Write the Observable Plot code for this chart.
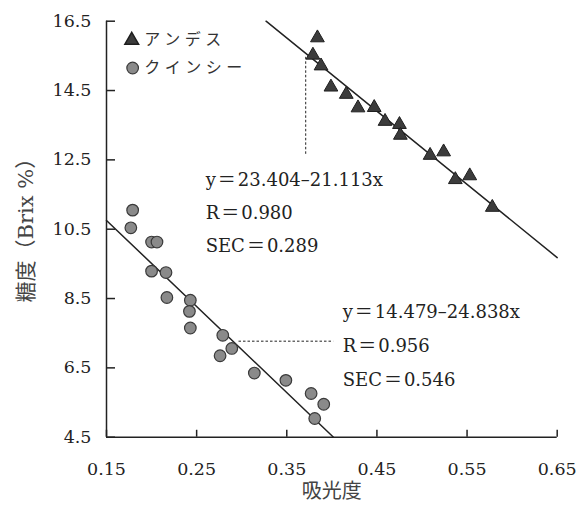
<!DOCTYPE html>
<html><head><meta charset="utf-8">
<script src="https://cdn.jsdelivr.net/npm/d3@7"></script>
<script src="https://cdn.jsdelivr.net/npm/@observablehq/plot@0.6"></script>
<style>body{margin:0;background:#fff}</style>
</head><body><div id="chart"></div>
<script>
// ---- data ----
const xTicks = [0.15, 0.25, 0.35, 0.45, 0.55, 0.65];
const yTicks = [4.5, 6.5, 8.5, 10.5, 12.5, 14.5, 16.5];
const seriesNames = ["アンデス", "クインシー"];

const andesX = [0.384, 0.379, 0.388, 0.399, 0.416, 0.429, 0.447, 0.459, 0.475, 0.476, 0.509, 0.524, 0.537, 0.553, 0.578];
const andesY = [16.02, 15.52, 15.21, 14.60, 14.39, 14.00, 14.01, 13.61, 13.52, 13.21, 12.63, 12.73, 11.93, 12.04, 11.13];

const quincyX = [0.179, 0.177, 0.200, 0.206, 0.200, 0.216, 0.217, 0.243, 0.242, 0.243, 0.279, 0.289, 0.276, 0.314, 0.349, 0.377, 0.391, 0.381];
const quincyY = [11.05, 10.54, 10.13, 10.13, 9.29, 9.25, 8.53, 8.45, 8.13, 7.65, 7.44, 7.06, 6.85, 6.35, 6.14, 5.76, 5.45, 5.04];

// regression lines y = a + b x, drawn over the x span shown in the figure
const andesFit = {a: 23.404, b: -21.113, x0: 0.327, x1: 0.65};
const quincyFit = {a: 14.479, b: -24.838, x0: 0.15, x1: 0.4018};

const andesLabels = ["y＝23.404–21.113x", "R＝0.980", "SEC＝0.289"];
const quincyLabels = ["y＝14.479–24.838x", "R＝0.956", "SEC＝0.546"];
const xLabel = "吸光度";
const yLabel = "糖度（Brix %）";

// ---- build tables ----
const andes = andesX.map((x, i) => ({x, y: andesY[i]}));
const quincy = quincyX.map((x, i) => ({x, y: quincyY[i]}));
const fitLine = f => [f.x0, f.x1].map(x => ({x, y: f.a + f.b * x}));

const ink = "#222";
const serif = "DejaVu Serif, Noto Sans CJK JP, serif";
const cjk = "Noto Sans CJK JP, sans-serif";

const chart = Plot.plot({
  width: 585,
  height: 513,
  marginLeft: 106,
  marginRight: 28.3,
  marginTop: 20.7,
  marginBottom: 76.3,
  style: {fontFamily: serif, fontSize: "17.5px", color: ink, background: "white"},
  x: {domain: [0.15, 0.65]},
  y: {domain: [4.5, 16.5]},
  marks: [
    // axes lines
    Plot.ruleY([4.5], {stroke: ink, strokeWidth: 1.5}),
    Plot.ruleX([0.15], {stroke: ink, strokeWidth: 1.5}),
    // inward ticks
    Plot.ruleY(yTicks, {y: d => d, x1: 0.15, x2: 0.16, stroke: ink, strokeWidth: 1.5}),
    Plot.ruleX(xTicks, {x: d => d, y1: 4.5, y2: 4.7, stroke: ink, strokeWidth: 1.5}),
    Plot.axisX({ticks: xTicks, tickSize: 0, tickPadding: 25, tickFormat: d3.format(".2f"), label: null, fill: ink, stroke: ink, strokeWidth: 0.35}),
    Plot.axisY({ticks: yTicks, tickSize: 0, tickPadding: 15, tickFormat: d3.format(".1f"), label: null, fill: ink, stroke: ink, strokeWidth: 0.35}),
    // regression lines
    Plot.line(fitLine(andesFit), {x: "x", y: "y", stroke: ink, strokeWidth: 1.5}),
    Plot.line(fitLine(quincyFit), {x: "x", y: "y", stroke: ink, strokeWidth: 1.5}),
    // leader lines
    Plot.ruleX([0.371], {y1: 12.66, y2: 15.46, stroke: ink, strokeWidth: 1, strokeDasharray: "2.5,2"}),
    Plot.ruleY([7.27], {x1: 0.297, x2: 0.402, stroke: ink, strokeWidth: 1, strokeDasharray: "2.5,2"}),
    // points
    Plot.dot(quincy, {x: "x", y: "y", r: 5.8, fill: "#8a8a8a", stroke: "#3a3a3a", strokeWidth: 1.2}),
    Plot.dot(andes, {x: "x", y: "y", symbol: "triangle", r: 5.1, fill: "#3c3c3c", stroke: "#1e1e1e", strokeWidth: 1}),
    // annotations
    Plot.text([andesLabels.join("\n")], {x: 0.26, y: 11.1, text: d => d, textAnchor: "start", lineHeight: 1.85, fontSize: 18, fill: ink}),
    Plot.text([quincyLabels.join("\n")], {x: 0.412, y: 7.27, text: d => d, textAnchor: "start", lineHeight: 1.9, fontSize: 18, fill: ink}),
    // legend
    Plot.dot([seriesNames[0]], {x: 0.178, y: 15.95, symbol: "triangle", r: 5.1, fill: "#3c3c3c", stroke: "#1e1e1e"}),
    Plot.dot([seriesNames[1]], {x: 0.179, y: 15.15, r: 5.8, fill: "#8a8a8a", stroke: "#3a3a3a", strokeWidth: 1.2}),
    Plot.text([seriesNames[0]], {x: 0.192, y: 15.95, text: d => d, textAnchor: "start", fontFamily: cjk, fontSize: 16, fill: "#333"}),
    Plot.text([seriesNames[1]], {x: 0.192, y: 15.15, text: d => d, textAnchor: "start", fontFamily: cjk, fontSize: 16, fill: "#333"}),
    // axis titles
    Plot.text([xLabel], {frameAnchor: "bottom", dy: 61, text: d => d, fontFamily: cjk, fontSize: 20, fill: "#444"}),
    Plot.text([yLabel], {frameAnchor: "left", dx: -80, dy: -4, rotate: -90, textAnchor: "middle", text: d => d, fontSize: 21, fill: "#444"})
  ]
});

// typographic touches: spaced kana in the legend, full-width "＝" set in the CJK face
chart.querySelectorAll("text").forEach(t => {
  const s = t.textContent;
  if (seriesNames.includes(s)) t.style.letterSpacing = "4.5px";
});
chart.querySelectorAll("tspan").forEach(ts => {
  const s = ts.textContent;
  if (!s.includes("＝")) return;
  const [a, b] = s.split("＝");
  ts.textContent = "";
  const ns = "http://www.w3.org/2000/svg";
  const t1 = document.createElementNS(ns, "tspan"); t1.textContent = a;
  const t2 = document.createElementNS(ns, "tspan"); t2.textContent = "＝";
  t2.setAttribute("font-family", "Noto Sans CJK JP"); t2.setAttribute("dx", "2");
  const t3 = document.createElementNS(ns, "tspan"); t3.textContent = b; t3.setAttribute("dx", "2");
  ts.append(t1, t2, t3);
});
document.getElementById("chart").appendChild(chart);
</script>
</body></html>
